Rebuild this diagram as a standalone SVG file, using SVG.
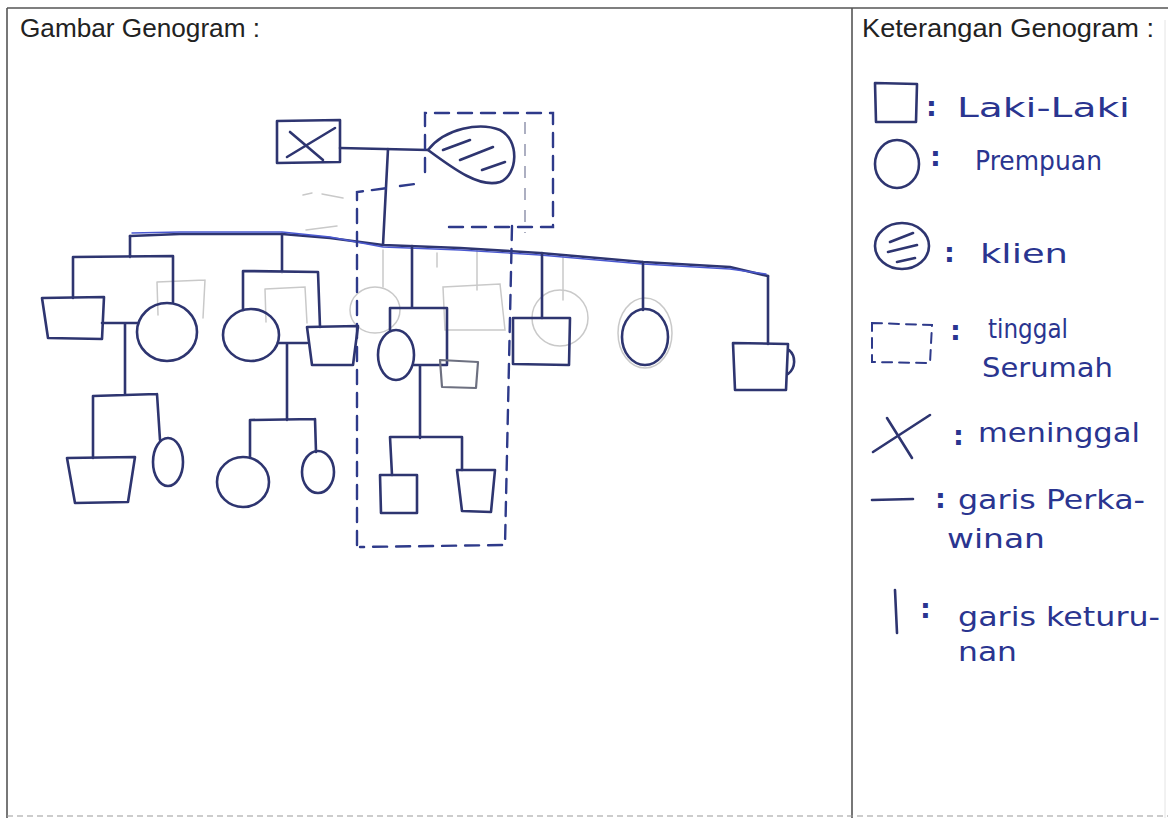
<svg xmlns="http://www.w3.org/2000/svg" width="1168" height="818" viewBox="0 0 1168 818">
<style>
.frame{stroke:#555;stroke-width:1.6;fill:none}
.ink{stroke:#2e3570;stroke-width:2.6;fill:none;stroke-linecap:round;stroke-linejoin:round}
.blue{stroke:#4a58d0;stroke-width:1.4;fill:none;stroke-linecap:round}
.ghost{stroke:#c9c9c9;stroke-width:1.5;fill:none;stroke-linecap:round}
.grey{stroke:#6d7080;stroke-width:2.2;fill:none;stroke-linecap:round;stroke-linejoin:round}
.dash{stroke:#2e3a8a;stroke-width:2.4;fill:none;stroke-dasharray:14 9;stroke-linecap:round}
.dashthin{stroke:#8a8ea8;stroke-width:1.4;fill:none;stroke-dasharray:12 10}
.title{font-family:"Liberation Sans",Arial,sans-serif;font-size:25px;fill:#222}
.hand{font-family:"DejaVu Sans","Liberation Sans",sans-serif;font-size:27px;fill:#2a3590}
.colon{font-family:"DejaVu Sans","Liberation Sans",sans-serif;font-size:27px;font-weight:bold;fill:#2a3590}
</style>
<rect width="1168" height="818" fill="#fff"/>
<g id="frame">
<line class="frame" x1="7" y1="8" x2="1168" y2="8"/>
<line class="frame" x1="7" y1="8" x2="7" y2="818"/>
<line class="frame" x1="852" y1="8" x2="852" y2="818"/>
<line x1="7" y1="816" x2="1168" y2="816" stroke="#999" stroke-width="1.2" stroke-dasharray="6 4"/>
<line x1="1165" y1="20" x2="1165" y2="818" stroke="#e4e4e4" stroke-width="1"/>
<text class="title" x="20" y="37" textLength="240" lengthAdjust="spacingAndGlyphs">Gambar Genogram :</text>
<text class="title" x="862" y="37" textLength="292" lengthAdjust="spacingAndGlyphs">Keterangan Genogram :</text>
</g>

<g id="ghost-sketch">
<path class="ghost" d="M157,282 L205,280 M157,282 L158,315 M205,280 L203,318"/>
<path class="ghost" d="M265,289 L305,287 L307,323 M265,289 L266,322"/>
<path class="ghost" d="M443,287 L500,284 L505,330 L445,330 Z"/>
<ellipse class="ghost" cx="375" cy="310" rx="25" ry="23"/>
<ellipse class="ghost" cx="560" cy="318" rx="28" ry="28"/>
<ellipse class="ghost" cx="645" cy="333" rx="27" ry="35"/>
<path class="ghost" d="M383,250 L383,287 M437,253 L437,267 M477,250 L477,290 M563,255 L563,300"/>
<path class="ghost" d="M303,195 L312,193 M322,194 L343,198 M306,230 L337,226"/>
</g>

<g id="connectors">
<path class="ink" d="M340,148 L428,150"/>
<path class="ink" d="M388,149 L383,245"/>
<path class="ink" d="M130,236 L180,234 L282,234 L330,238 L383,245 L460,248 L540,253 L643,262 L730,267 L768,276"/>
<path class="blue" d="M132,233 L180,232 L282,232 L330,237 L383,247 L460,250 L540,255 L643,264 L730,269 L766,274"/>
<path class="ink" d="M130,236 L130,257 M73,257 L173,256 M73,257 L73,298 M173,256 L173,302"/>
<path class="ink" d="M102,323 L138,323 M125,323 L125,395 M93,396 L157,394 M93,396 L93,458 M157,394 L160,440"/>
<path class="ink" d="M282,234 L282,272 M243,271 L318,272 M243,271 L243,310 M318,272 L320,327"/>
<path class="ink" d="M278,343 L307,343 M287,343 L287,420 M250,420 L315,419 M250,420 L250,458 M315,419 L316,452"/>
<path class="ink" d="M412,246 L412,308 M390,308 L447,308 M390,308 L390,330 M447,308 L447,364"/>
<path class="ink" d="M414,365 L447,365 M420,365 L420,438 M390,437 L462,437 M390,437 L392,475 M462,437 L462,470"/>
<path class="ink" d="M542,253 L542,318 M643,262 L643,310 M768,276 L768,344"/>
</g>

<g id="households">
<path class="dash" d="M425,172 L425,113 L553,113 L553,227 L447,227"/>
<path class="dash" d="M357,545 L357,192 L388,188 M400,186 L415,184 M512,226 L505,545 L360,547"/>
<line class="dashthin" x1="525" y1="122" x2="525" y2="233"/>
</g>

<g id="grandfather">
<path class="ink" d="M277,121 L340,120 L340,162 L277,163 Z"/>
<path class="ink" d="M290,132 L323,160 M287,157 L335,128"/>
</g>

<g id="client">
<path class="ink" d="M428,150 C445,128 480,122 500,130 C520,140 518,175 500,182 C480,188 455,170 428,150 Z"/>
<path class="ink" d="M443,150 L470,140 M460,160 L493,147 M482,170 L505,162"/>
</g>

<g id="child1"><path class="ink" d="M42,298 L104,297 L102,339 L48,338 Z"/></g>
<g id="child1-spouse"><ellipse class="ink" cx="167" cy="332" rx="30" ry="29"/></g>
<g id="grandchild1"><path class="ink" d="M67,458 L135,457 L128,502 L75,503 Z"/></g>
<g id="grandchild2"><ellipse class="ink" cx="168" cy="462" rx="15" ry="24"/></g>

<g id="child2"><ellipse class="ink" cx="251" cy="335" rx="28" ry="26"/></g>
<g id="child2-spouse"><path class="ink" d="M307,327 L358,326 L353,365 L312,365 Z"/></g>
<g id="grandchild3"><ellipse class="ink" cx="243" cy="482" rx="26" ry="25"/></g>
<g id="grandchild4"><ellipse class="ink" cx="318" cy="472" rx="16" ry="21"/></g>

<g id="child3"><ellipse class="ink" cx="396" cy="355" rx="18" ry="25"/></g>
<g id="child3-spouse"><path class="grey" d="M440,360 L478,362 L476,388 L442,387 Z"/></g>
<g id="grandchild5"><path class="ink" d="M380,475 L417,475 L417,513 L381,513 Z"/></g>
<g id="grandchild6"><path class="ink" d="M457,470 L495,470 L491,512 L462,511 Z"/></g>

<g id="child4"><path class="ink" d="M513,318 L570,318 L569,365 L513,364 Z"/></g>
<g id="child5"><ellipse class="ink" cx="645" cy="337" rx="23" ry="28"/></g>
<g id="child6"><path class="ink" d="M733,343 L788,344 L786,390 L735,390 Z M789,350 C796,356 796,368 788,374"/></g>

<g id="legend">
<path class="ink" d="M875,83 L917,84 L916,122 L876,122 Z"/>
<text class="colon" x="926" y="116">:</text>
<text class="hand" x="957" y="117" textLength="173" lengthAdjust="spacingAndGlyphs">Laki-Laki</text>

<ellipse class="ink" cx="897" cy="164" rx="22" ry="24"/>
<text class="colon" x="930" y="166">:</text>
<text class="hand" x="975" y="170" textLength="127" lengthAdjust="spacingAndGlyphs">Prempuan</text>

<ellipse class="ink" cx="902" cy="246" rx="27" ry="23"/>
<path class="ink" d="M890,242 L913,233 M888,252 L917,245 M897,262 L915,258"/>
<text class="colon" x="944" y="262">:</text>
<text class="hand" x="980" y="263" textLength="88" lengthAdjust="spacingAndGlyphs">klien</text>

<path class="dash" style="stroke-dasharray:10 7;stroke-width:2" d="M872,323 L932,325 L930,363 L872,362 Z"/>
<text class="colon" x="950" y="340">:</text>
<text class="hand" x="988" y="338" textLength="80" lengthAdjust="spacingAndGlyphs">tinggal</text>
<text class="hand" x="982" y="377" textLength="131" lengthAdjust="spacingAndGlyphs">Serumah</text>

<path class="ink" d="M873,452 L930,415 M887,418 L912,458"/>
<text class="colon" x="953" y="445">:</text>
<text class="hand" x="978" y="442" textLength="162" lengthAdjust="spacingAndGlyphs">meninggal</text>

<path class="ink" d="M872,500 L913,499"/>
<text class="colon" x="935" y="508">:</text>
<text class="hand" x="958" y="509" textLength="187" lengthAdjust="spacingAndGlyphs">garis Perka-</text>
<text class="hand" x="947" y="548" textLength="98" lengthAdjust="spacingAndGlyphs">winan</text>

<path class="ink" d="M895,590 L897,633"/>
<text class="colon" x="920" y="618">:</text>
<text class="hand" x="958" y="626" textLength="202" lengthAdjust="spacingAndGlyphs">garis keturu-</text>
<text class="hand" x="958" y="661" textLength="59" lengthAdjust="spacingAndGlyphs">nan</text>
</g>
</svg>
